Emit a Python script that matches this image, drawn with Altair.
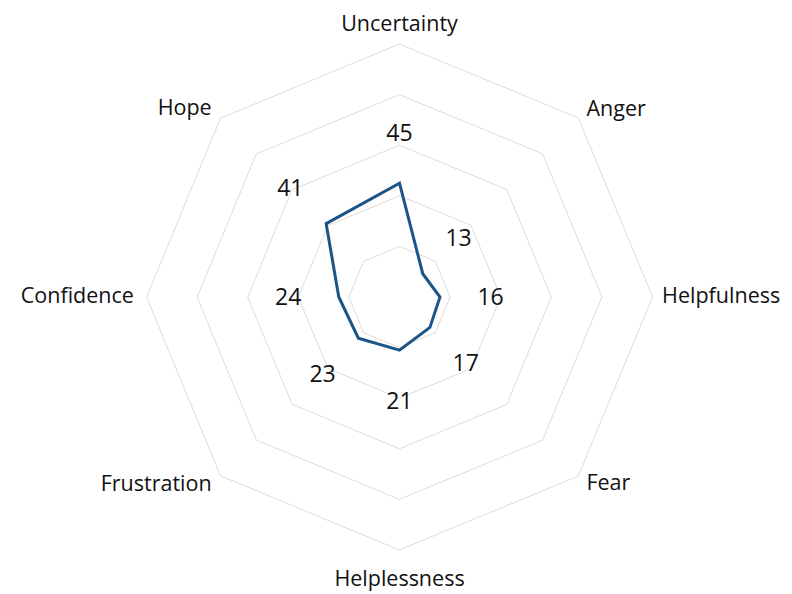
import altair as alt
import pandas as pd

# ---- data ----
categories = ["Uncertainty", "Anger", "Helpfulness", "Fear",
              "Helplessness", "Frustration", "Confidence", "Hope"]
values = [45, 13, 16, 17, 21, 23, 24, 41]
ring_levels = [20, 40, 60, 80, 100]

# ---- layout constants ----
W, H = 776, 586
CX, CY = 391.5, 289.0       # center in canvas px
PX = 2.53                   # px per unit
FONT = "Open Sans"
FS_CAT = 21.5
FS_VAL = 23
LINE_COLOR = "#1c5486"
TEXT_COLOR = "#111111"

xdom = [-CX / PX, (W - CX) / PX]
ydom = [(CY - H) / PX, CY / PX]

xs = alt.X("x:Q", scale=alt.Scale(domain=xdom), axis=None)
ys = alt.Y("y:Q", scale=alt.Scale(domain=ydom), axis=None)

n = len(categories)
df = pd.DataFrame({"cat": categories, "v": values, "i": list(range(n))})

rings = pd.DataFrame([{"level": lv, "i": i} for lv in ring_levels for i in range(n)])

ang = "datum.i * PI / 4"

grid = alt.Chart(rings).transform_calculate(
    x=f"datum.level * sin({ang})", y=f"datum.level * cos({ang})"
).mark_line(interpolate="linear-closed", stroke="#dcdcdc", strokeWidth=1).encode(
    x=xs, y=ys, detail="level:N", order="i:Q"
)

line = alt.Chart(df).transform_calculate(
    x=f"datum.v * sin({ang})", y=f"datum.v * cos({ang})"
).mark_line(interpolate="linear-closed", stroke=LINE_COLOR, strokeWidth=3).encode(
    x=xs, y=ys, order="i:Q"
)

vals = alt.Chart(df).transform_calculate(
    x=f"(datum.v + 20) * sin({ang})", y=f"(datum.v + 20) * cos({ang})"
).mark_text(font=FONT, fontSize=FS_VAL, color=TEXT_COLOR, align="center",
            baseline="middle", dy=1).encode(
    x=xs, y=ys, text="v:Q"
)


def cat_layer(idx, align, baseline, r):
    return alt.Chart(df).transform_filter(
        alt.FieldOneOfPredicate(field="i", oneOf=idx)
    ).transform_calculate(
        x=f"{r} * sin({ang})", y=f"{r} * cos({ang})"
    ).mark_text(font=FONT, fontSize=FS_CAT, color=TEXT_COLOR, align=align,
                baseline=baseline).encode(
        x=xs, y=ys, text="cat:N"
    )


labels = [
    cat_layer([0], "center", "alphabetic", 105.0),
    cat_layer([4], "center", "alphabetic", 114.3),
    cat_layer([1, 3], "left", "middle", 104.5),
    cat_layer([2], "left", "middle", 103.8),
    cat_layer([5, 6, 7], "right", "middle", 105),
]

chart = alt.layer(grid, line, vals, *labels).properties(
    width=W, height=H, padding=0, autosize=alt.AutoSizeParams(type="none")
).configure_view(stroke=None)

chart.save("out.html", embed_options={"renderer": "svg", "actions": False})
